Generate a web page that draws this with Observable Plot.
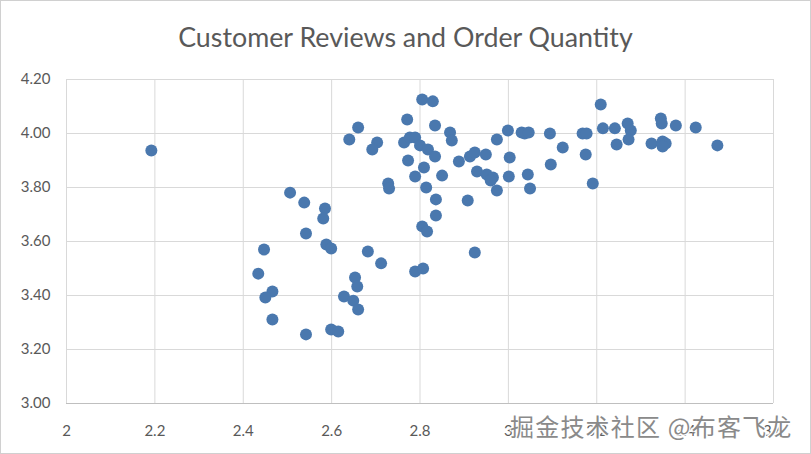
<!DOCTYPE html>
<html>
<head>
<meta charset="utf-8">
<script src="https://cdn.jsdelivr.net/npm/d3@7"></script>
<script src="https://cdn.jsdelivr.net/npm/@observablehq/plot@0.6"></script>
<style>
  html, body { margin: 0; padding: 0; background: #fff; }
  #wrap { position: relative; width: 811px; height: 454px; overflow: hidden; background: #fff; }
  #title { height: 60px; line-height: 24px; padding-top: 25px; box-sizing: border-box; text-align: center;
    font-family: Lato, "Open Sans", sans-serif; font-size: 26.8px; color: #595959; }
  #border { position: absolute; left: 0; top: 0; width: 811px; height: 454px; box-sizing: border-box;
    border: 1px solid #d0d0d0; pointer-events: none; }
  #wm { position: absolute; left: 510px; top: 408px; font-family: "Noto Sans CJK SC", sans-serif; font-size: 24px;
    letter-spacing: 1.2px; color: #8a8a8a;
    text-shadow: -1px -1px 0 #fff, 1px -1px 0 #fff, -1px 1px 0 #fff, 1px 1px 0 #fff, 0 0 3px #fff, 0 0 3px #fff;
    white-space: nowrap; }
</style>
</head>
<body>
<div id="wrap">
  <div id="title">Customer Reviews and Order Quantity</div>
  <div id="chart"></div>
  <div id="wm">掘金技术社区 @布客飞龙</div>
  <div id="border"></div>
</div>
<script>
const reviews = [2.192,2.506,2.538,2.585,2.581,2.542,2.588,2.599,2.447,2.682,2.712,2.434,2.653,2.658,2.466,2.450,2.628,2.649,2.660,2.466,2.599,2.615,2.542,2.728,2.730,2.660,2.640,2.703,2.692,2.771,2.764,2.777,2.789,2.773,2.805,2.829,2.834,2.868,2.872,2.999,2.974,3.030,3.037,3.046,3.094,2.800,2.818,2.834,2.809,2.789,2.850,2.888,2.913,2.924,2.949,3.003,3.096,2.929,2.951,2.965,2.960,3.001,3.044,2.974,3.049,2.814,2.836,2.908,2.836,2.805,2.816,2.924,2.789,2.807,3.209,3.214,3.241,3.270,3.277,3.272,3.245,3.168,3.177,3.123,3.175,3.191,3.345,3.347,3.379,3.424,3.324,3.349,3.356,3.349,3.473];
const quantity = [3.937,3.781,3.744,3.722,3.685,3.630,3.589,3.574,3.570,3.563,3.519,3.481,3.467,3.433,3.415,3.393,3.396,3.381,3.348,3.311,3.274,3.267,3.256,3.815,3.796,4.022,3.978,3.967,3.941,4.052,3.967,3.985,3.985,3.900,4.126,4.119,4.030,4.004,3.974,4.011,3.978,4.004,4.000,4.004,4.000,3.956,3.941,3.915,3.874,3.841,3.844,3.896,3.915,3.930,3.922,3.911,3.885,3.859,3.848,3.837,3.826,3.841,3.848,3.789,3.796,3.800,3.756,3.752,3.696,3.656,3.637,3.559,3.489,3.500,4.107,4.019,4.019,4.037,4.011,3.978,3.959,4.000,4.000,3.948,3.922,3.815,4.056,4.037,4.030,4.022,3.963,3.970,3.963,3.952,3.956];
const xTicks = [2, 2.2, 2.4, 2.6, 2.8, 3, 3.2, 3.4, 3.6];
const yTicks = [3.0, 3.2, 3.4, 3.6, 3.8, 4.0, 4.2];

const data = reviews.map((x, i) => ({x, y: quantity[i]}));

const chart = Plot.plot({
  width: 811,
  height: 394,
  marginTop: 19,
  marginBottom: 51,
  marginLeft: 66,
  marginRight: 38,
  style: {fontFamily: "Lato, 'Open Sans', sans-serif", fontSize: "15px", color: "#595959", background: "transparent"},
  x: {domain: [2, 3.6]},
  y: {domain: [3.0, 4.2]},
  marks: [
    Plot.gridX(xTicks, {stroke: "#d9d9d9", strokeOpacity: 1}),
    Plot.gridY(yTicks, {stroke: "#d9d9d9", strokeOpacity: 1}),
    Plot.ruleY([3.0], {stroke: "#bfbfbf"}),
    Plot.axisX(xTicks, {tickSize: 0, tickPadding: 22, tickFormat: d => String(+d.toFixed(1)), label: null}),
    Plot.axisY(yTicks, {tickSize: 0, tickPadding: 16, tickFormat: d => d.toFixed(2), label: null}),
    Plot.dot(data, {x: "x", y: "y", r: 6, fill: "#4a78ae", stroke: "none"})
  ]
});
document.getElementById("chart").appendChild(chart);
</script>
</body>
</html>
